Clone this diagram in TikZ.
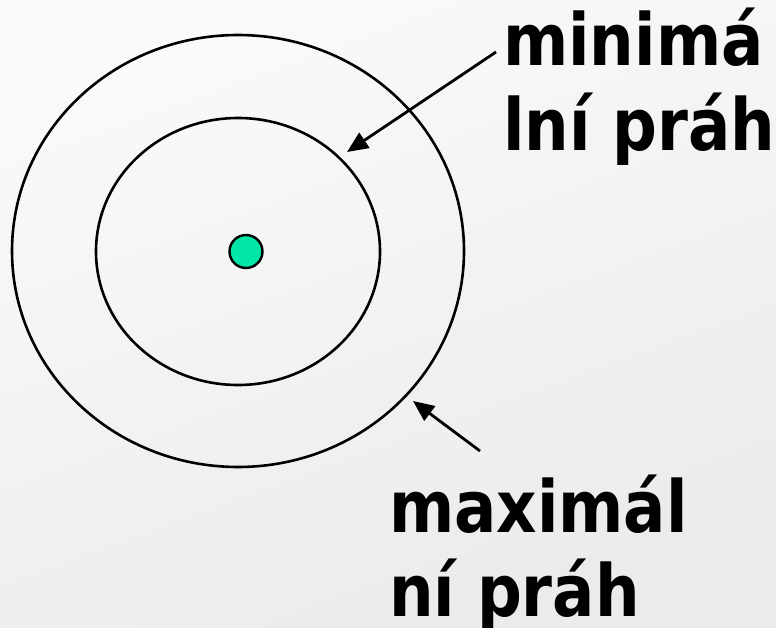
\documentclass[tikz,border=0pt]{standalone}
\usepackage{fontspec}
\usetikzlibrary{shapes.geometric,arrows.meta}
\newfontfamily\lblfont{DejaVu Sans}[FakeStretch=0.87]
\definecolor{dotgreen}{RGB}{0,230,168}
\tikzset{
  ring/.style={ellipse, draw=black, line width=2.6pt, inner sep=0pt},
  lbl/.style={anchor=base west, inner sep=0pt, font=\lblfont\bfseries\fontsize{72}{85}\selectfont},
  pointer/.style={line width=2.8pt, -{Triangle[length=21pt,width=18pt]}}
}
\begin{document}
\begin{tikzpicture}[x=1pt,y=-1pt]
\useasboundingbox (0,0) rectangle (776,628);
\shade[top color=white!98!black, bottom color=white!92!black, shading angle=20] (0,0) rectangle (776,628);
\node[ring, minimum width=452pt, minimum height=432pt] (outer) at (238,251) {};
\node[ring, minimum width=284pt, minimum height=267pt] (inner) at (238,251.5) {};
\node[circle, draw=black, line width=2.4pt, fill=dotgreen, minimum size=33pt, inner sep=0pt] (dot) at (246,251.5) {};
\node[lbl] (min1) at (503,66) {minimá};
\node[lbl] (min2) at (503,151) {lní práh};
\node[lbl] (max1) at (389,532) {maximál};
\node[lbl] (max2) at (389,616) {ní práh};
\coordinate (s1) at (496,52);
\coordinate (t1) at (347,152);
\coordinate (s2) at (480,451);
\coordinate (t2) at (413,401);
\draw[pointer] (s1) -- (t1);
\draw[pointer] (s2) -- (t2);
\end{tikzpicture}
\end{document}
